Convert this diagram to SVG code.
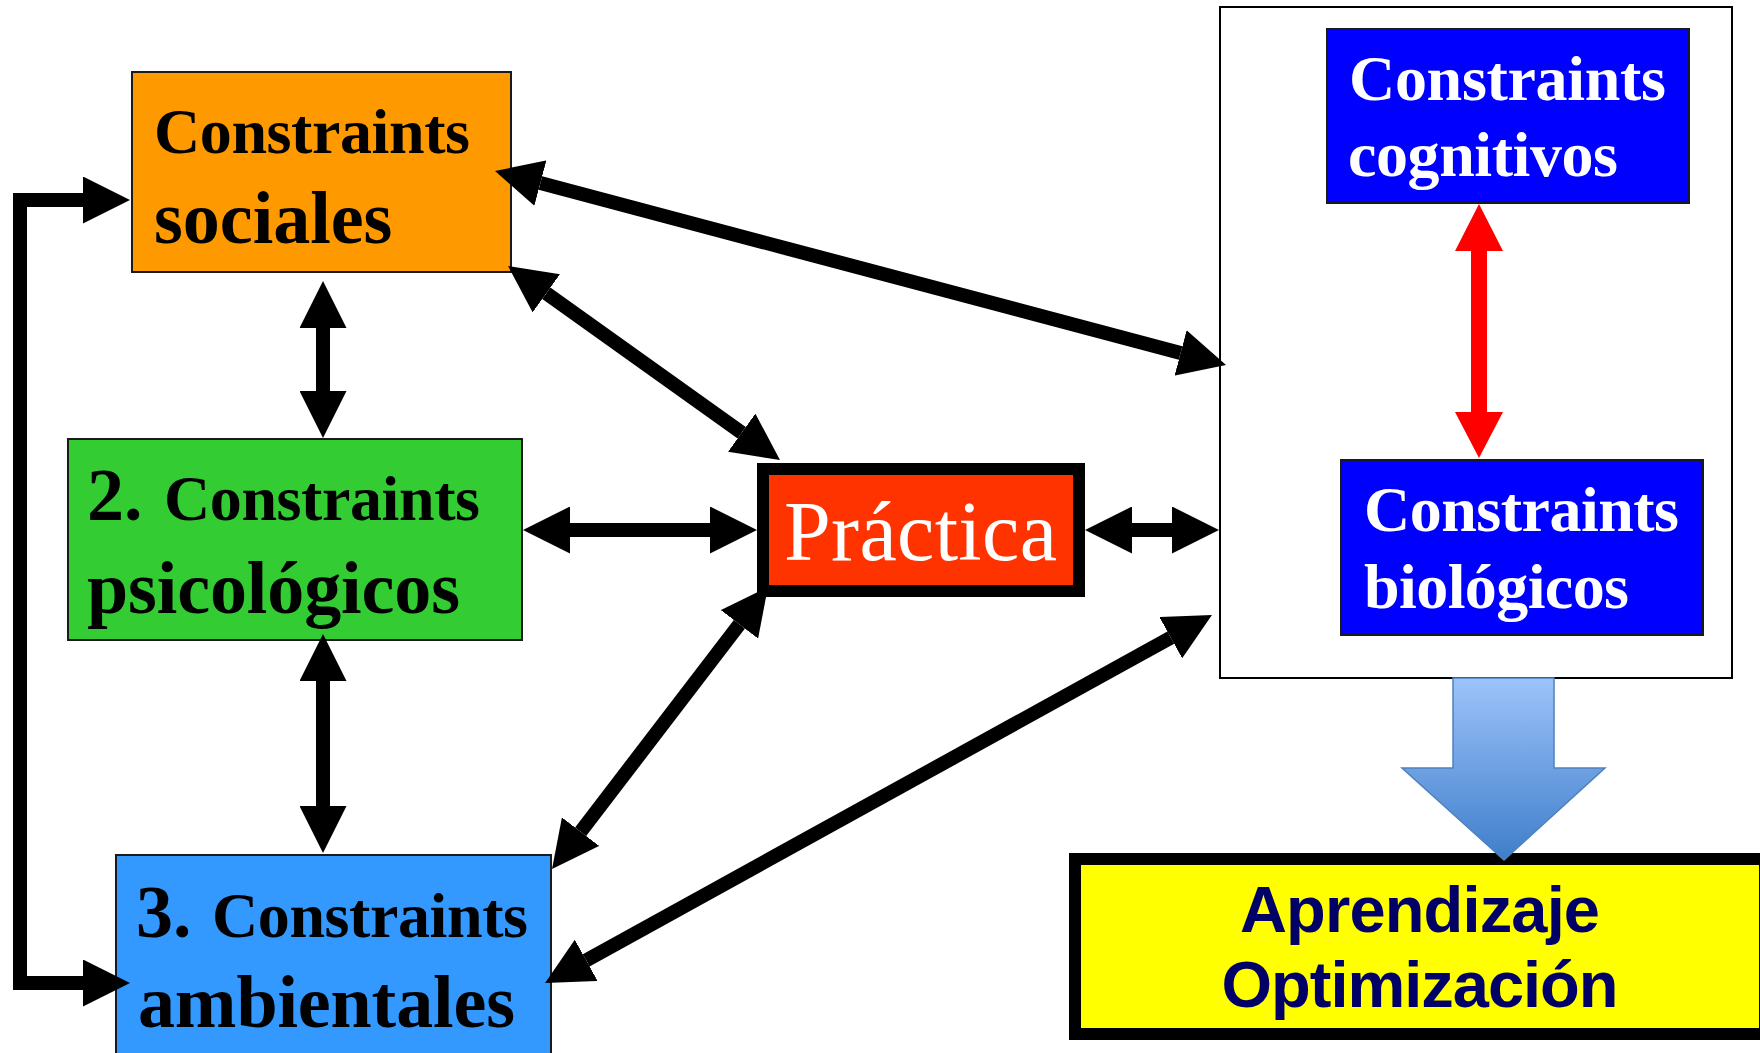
<svg xmlns="http://www.w3.org/2000/svg" width="1760" height="1053" viewBox="0 0 1760 1053">
<style>
.box{stroke:#1a1a1a;stroke-width:2}
.lbl{font-family:"Liberation Serif","Times New Roman",serif;font-weight:bold;fill:#000}
.wl{font-family:"Liberation Serif","Times New Roman",serif;font-weight:bold;fill:#fff}
.conn{fill:none;stroke:#000;stroke-width:14;stroke-linejoin:miter}
.yt{font-family:"Liberation Sans",Arial,sans-serif;font-weight:bold;fill:#000066;font-size:65px}
</style>
<defs>
<marker id="ah" markerUnits="userSpaceOnUse" viewBox="0 0 47 47" refX="0" refY="23.5" markerWidth="47" markerHeight="47" orient="auto-start-reverse">
<path d="M0,0 L47,23.5 L0,47 z" fill="#000"/>
</marker>
<linearGradient id="bg" x1="0" y1="0" x2="0" y2="1">
<stop offset="0" stop-color="#9DC3FA"/>
<stop offset="1" stop-color="#3F7ECB"/>
</linearGradient>
</defs>
<rect width="1760" height="1053" fill="#fff"/>

<g id="container">
<rect x="1220" y="7" width="512" height="671" fill="#fff" stroke="#000" stroke-width="2"/>
</g>

<g id="sociales">
<rect class="box" x="132" y="72" width="379" height="200" fill="#FF9900"/>
<text class="lbl" x="154" y="153" font-size="64" textLength="316">Constraints</text>
<text class="lbl" x="154" y="243" font-size="74">sociales</text>
</g>

<g id="psicologicos">
<rect class="box" x="68" y="439" width="454" height="201" fill="#33CC33"/>
<text class="lbl" y="520"><tspan x="87" font-size="74">2.</tspan><tspan x="164" font-size="64" textLength="316">Constraints</tspan></text>
<text class="lbl" x="87" y="613" font-size="74" textLength="373">psicológicos</text>
</g>

<g id="ambientales">
<rect class="box" x="116" y="855" width="435" height="210" fill="#3399FF"/>
<text class="lbl" y="937"><tspan x="136" font-size="74">3.</tspan><tspan x="212" font-size="64" textLength="316">Constraints</tspan></text>
<text class="lbl" x="138" y="1027" font-size="74" textLength="377">ambientales</text>
</g>

<g id="practica">
<rect x="763" y="469" width="316" height="122" fill="#FF3300" stroke="#000" stroke-width="12"/>
<text x="784" y="560" font-family="'Liberation Serif','Times New Roman',serif" font-size="84" fill="#fff" textLength="273">Práctica</text>
</g>

<g id="cognitivos">
<rect class="box" x="1327" y="29" width="362" height="174" fill="#0000FF"/>
<text class="wl" x="1349" y="100" font-size="64" textLength="317">Constraints</text>
<text class="wl" x="1348" y="176" font-size="64" textLength="270">cognitivos</text>
</g>

<g id="biologicos">
<rect class="box" x="1341" y="460" width="362" height="175" fill="#0000FF"/>
<text class="wl" x="1364" y="531" font-size="64" textLength="315">Constraints</text>
<text class="wl" x="1364" y="608" font-size="64" textLength="265">biológicos</text>
</g>

<g id="aprendizaje">
<rect x="1075" y="859" width="690" height="175" fill="#FFFF00" stroke="#000" stroke-width="12"/>
<text class="yt" x="1420" y="932" text-anchor="middle" textLength="360">Aprendizaje</text>
<text class="yt" x="1420" y="1007" text-anchor="middle" textLength="397">Optimización</text>
</g>

<g id="connectors">
<path class="conn" d="M83,200 L20,200 L20,983 L83,983" marker-start="url(#ah)" marker-end="url(#ah)"/>
<line class="conn" x1="323" y1="328" x2="323" y2="391" marker-start="url(#ah)" marker-end="url(#ah)"/>
<line class="conn" x1="323" y1="681" x2="323" y2="806" marker-start="url(#ah)" marker-end="url(#ah)"/>
<line class="conn" x1="570" y1="530" x2="710" y2="530" marker-start="url(#ah)" marker-end="url(#ah)"/>
<line class="conn" x1="1132" y1="530" x2="1172" y2="530" marker-start="url(#ah)" marker-end="url(#ah)"/>
<line class="conn" x1="540.4" y1="183.1" x2="1180.6" y2="352.9" marker-start="url(#ah)" marker-end="url(#ah)"/>
<line class="conn" x1="546.3" y1="293.3" x2="741.7" y2="432.7" marker-start="url(#ah)" marker-end="url(#ah)"/>
<line class="conn" x1="739.4" y1="624.3" x2="580.6" y2="831.7" marker-start="url(#ah)" marker-end="url(#ah)"/>
<line class="conn" x1="586.2" y1="960.3" x2="1170.8" y2="637.7" marker-start="url(#ah)" marker-end="url(#ah)"/>
<polygon points="1479,204 1503,251 1487,251 1487,412 1503,412 1479,458 1455,412 1471,412 1471,251 1455,251" fill="#FF0000"/>
<polygon points="1453,678 1554,678 1554,768 1605,768 1504,860 1402,768 1453,768" fill="url(#bg)" stroke="#4F81BD" stroke-width="1.5"/>
</g>
</svg>
